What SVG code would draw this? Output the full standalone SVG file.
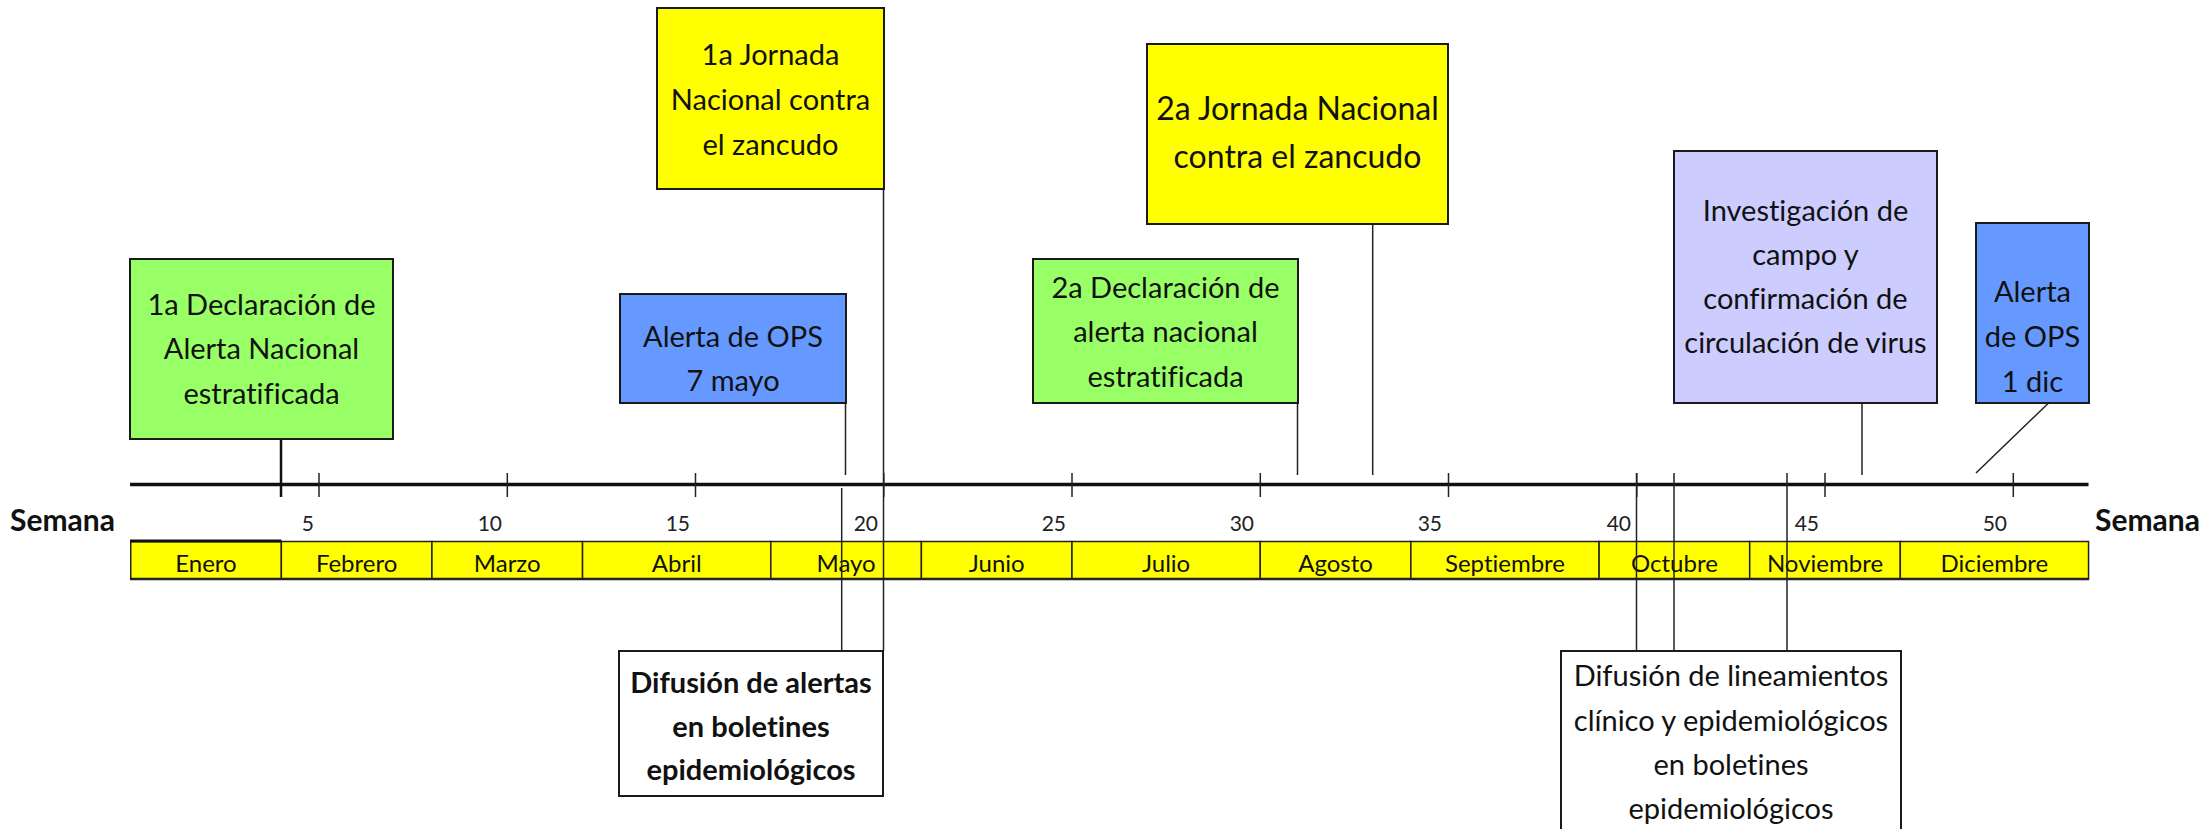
<svg xmlns="http://www.w3.org/2000/svg" width="2202" height="829" viewBox="0 0 2202 829">
<style>
.bg{fill:#ffffff}
.box{stroke:#1a1a1a;stroke-width:2}
.g{fill:#99ff66}
.b{fill:#6699ff}
.y{fill:#ffff00}
.p{fill:#ccccff}
.w{fill:#ffffff}
text{font-variant-ligatures:none;font-feature-settings:"liga" 0}
.t{font-family:Lato,"Open Sans",sans-serif;font-size:29px;fill:#111;text-anchor:middle}
.tb{font-family:Lato,"Open Sans",sans-serif;font-size:29px;font-weight:bold;fill:#111;text-anchor:middle}
.m{font-family:Lato,"Open Sans",sans-serif;font-size:24px;fill:#111;text-anchor:middle}
.wk{font-family:Lato,"Open Sans",sans-serif;font-size:21px;fill:#222;text-anchor:end}
.sem{font-family:Lato,"Open Sans",sans-serif;font-size:30px;font-weight:bold;fill:#111}
.ln{stroke:#222;stroke-width:1.5;fill:none}
.lnb{stroke:#111;stroke-width:2.5;fill:none}
.mb{stroke:#222;stroke-width:1.5}
</style>
<rect class="bg" x="0" y="0" width="2202" height="829"/>

<g id="axis">
<line x1="130" y1="484.5" x2="2088.5" y2="484.5" stroke="#111" stroke-width="3.5"/>
<g class="ln">
<line x1="319" y1="473" x2="319" y2="497"/>
<line x1="507.3" y1="473" x2="507.3" y2="497"/>
<line x1="695.5" y1="473" x2="695.5" y2="497"/>
<line x1="883.8" y1="473" x2="883.8" y2="497"/>
<line x1="1072" y1="473" x2="1072" y2="497"/>
<line x1="1260.3" y1="473" x2="1260.3" y2="497"/>
<line x1="1448.5" y1="473" x2="1448.5" y2="497"/>
<line x1="1636.8" y1="473" x2="1636.8" y2="497"/>
<line x1="1825" y1="473" x2="1825" y2="497"/>
<line x1="2013.3" y1="473" x2="2013.3" y2="497"/>
</g>
<text class="sem" x="10" y="531">Semana</text>
<text class="sem" x="2095" y="531">Semana</text>
<text class="wk" x="314" y="531">5</text>
<text class="wk" x="502" y="531">10</text>
<text class="wk" x="690" y="531">15</text>
<text class="wk" x="878" y="531">20</text>
<text class="wk" x="1066" y="531">25</text>
<text class="wk" x="1254" y="531">30</text>
<text class="wk" x="1442" y="531">35</text>
<text class="wk" x="1631" y="531">40</text>
<text class="wk" x="1819" y="531">45</text>
<text class="wk" x="2007" y="531">50</text>
</g>

<g id="months">
<rect class="y mb" x="130.75" y="541.5" width="150.6" height="37.5"/>
<rect class="y mb" x="281.35" y="541.5" width="150.6" height="37.5"/>
<rect class="y mb" x="431.95" y="541.5" width="150.6" height="37.5"/>
<rect class="y mb" x="582.55" y="541.5" width="188.25" height="37.5"/>
<rect class="y mb" x="770.8" y="541.5" width="150.6" height="37.5"/>
<rect class="y mb" x="921.4" y="541.5" width="150.6" height="37.5"/>
<rect class="y mb" x="1072" y="541.5" width="188.25" height="37.5"/>
<rect class="y mb" x="1260.25" y="541.5" width="150.6" height="37.5"/>
<rect class="y mb" x="1410.85" y="541.5" width="188.25" height="37.5"/>
<rect class="y mb" x="1599.1" y="541.5" width="150.6" height="37.5"/>
<rect class="y mb" x="1749.7" y="541.5" width="150.6" height="37.5"/>
<rect class="y mb" x="1900.3" y="541.5" width="188.25" height="37.5"/>
<line x1="130" y1="579" x2="2089" y2="579" stroke="#222" stroke-width="2.5"/>
<line x1="130" y1="541" x2="281.35" y2="541" stroke="#111" stroke-width="3"/>
<text class="m" x="206" y="572">Enero</text>
<text class="m" x="356.6" y="572">Febrero</text>
<text class="m" x="507.2" y="572">Marzo</text>
<text class="m" x="676.7" y="572">Abril</text>
<text class="m" x="846.1" y="572">Mayo</text>
<text class="m" x="996.7" y="572">Junio</text>
<text class="m" x="1166.1" y="572">Julio</text>
<text class="m" x="1335.5" y="572">Agosto</text>
<text class="m" x="1505" y="572">Septiembre</text>
<text class="m" x="1674.4" y="572">Octubre</text>
<text class="m" x="1825" y="572">Noviembre</text>
<text class="m" x="1994.4" y="572">Diciembre</text>
</g>

<g id="connectors">
<line class="lnb" x1="281" y1="439" x2="281" y2="497"/>
<line class="ln" x1="845.5" y1="403" x2="845.5" y2="475" stroke-width="2"/>
<line class="ln" x1="883.5" y1="189" x2="883.5" y2="651"/>
<line class="ln" x1="1297.5" y1="403" x2="1297.5" y2="475"/>
<line class="ln" x1="1372.7" y1="224" x2="1372.7" y2="475" stroke-width="3"/>
<line class="ln" x1="1862" y1="403" x2="1862" y2="475"/>
<line class="ln" x1="2048.6" y1="403" x2="1976" y2="473"/>
<line class="ln" x1="841.7" y1="488" x2="841.7" y2="651"/>
<line class="ln" x1="1636.5" y1="473" x2="1636.5" y2="651"/>
<line class="ln" x1="1674" y1="473" x2="1674" y2="651"/>
<line class="ln" x1="1787" y1="473" x2="1787" y2="651"/>
</g>

<g id="n-decl1">
<rect class="box g" x="130" y="259" width="263" height="180"/>
<text class="t" x="261.5" y="315">1a Declaración de</text>
<text class="t" x="261.5" y="359">Alerta Nacional</text>
<text class="t" x="261.5" y="404">estratificada</text>
</g>
<g id="n-ops1">
<rect class="box b" x="620" y="294" width="226" height="109"/>
<text class="t" x="733" y="347">Alerta de OPS</text>
<text class="t" x="733" y="391">7 mayo</text>
</g>
<g id="n-jornada1">
<rect class="box y" x="657" y="8" width="227" height="181"/>
<text class="t" x="770.5" y="65">1a Jornada</text>
<text class="t" x="770.5" y="110">Nacional contra</text>
<text class="t" x="770.5" y="155">el zancudo</text>
</g>
<g id="n-decl2">
<rect class="box g" x="1033" y="259" width="265" height="144"/>
<text class="t" x="1165.5" y="298">2a Declaración de</text>
<text class="t" x="1165.5" y="342">alerta nacional</text>
<text class="t" x="1165.5" y="387">estratificada</text>
</g>
<g id="n-jornada2">
<rect class="box y" x="1147" y="44" width="301" height="180"/>
<text class="t" x="1297.5" y="120" style="font-size:32px">2a Jornada Nacional</text>
<text class="t" x="1297.5" y="168" style="font-size:32px">contra el zancudo</text>
</g>
<g id="n-invest">
<rect class="box p" x="1674" y="151" width="263" height="252"/>
<text class="t" x="1805.5" y="221">Investigación de</text>
<text class="t" x="1805.5" y="265">campo y</text>
<text class="t" x="1805.5" y="309">confirmación de</text>
<text class="t" x="1805.5" y="353">circulación de virus</text>
</g>
<g id="n-ops2">
<rect class="box b" x="1976" y="223" width="113" height="180"/>
<text class="t" x="2032.5" y="302">Alerta</text>
<text class="t" x="2032.5" y="347">de OPS</text>
<text class="t" x="2032.5" y="392">1 dic</text>
</g>
<g id="n-difusion1">
<rect class="box w" x="619" y="651" width="264" height="145"/>
<text class="tb" x="751" y="693">Difusión de alertas</text>
<text class="tb" x="751" y="737">en boletines</text>
<text class="tb" x="751" y="780">epidemiológicos</text>
</g>
<g id="n-difusion2">
<rect class="box w" x="1561" y="651" width="340" height="195"/>
<text class="t" x="1731" y="686">Difusión de lineamientos</text>
<text class="t" x="1731" y="731">clínico y epidemiológicos</text>
<text class="t" x="1731" y="775">en boletines</text>
<text class="t" x="1731" y="819">epidemiológicos</text>
</g>
</svg>
